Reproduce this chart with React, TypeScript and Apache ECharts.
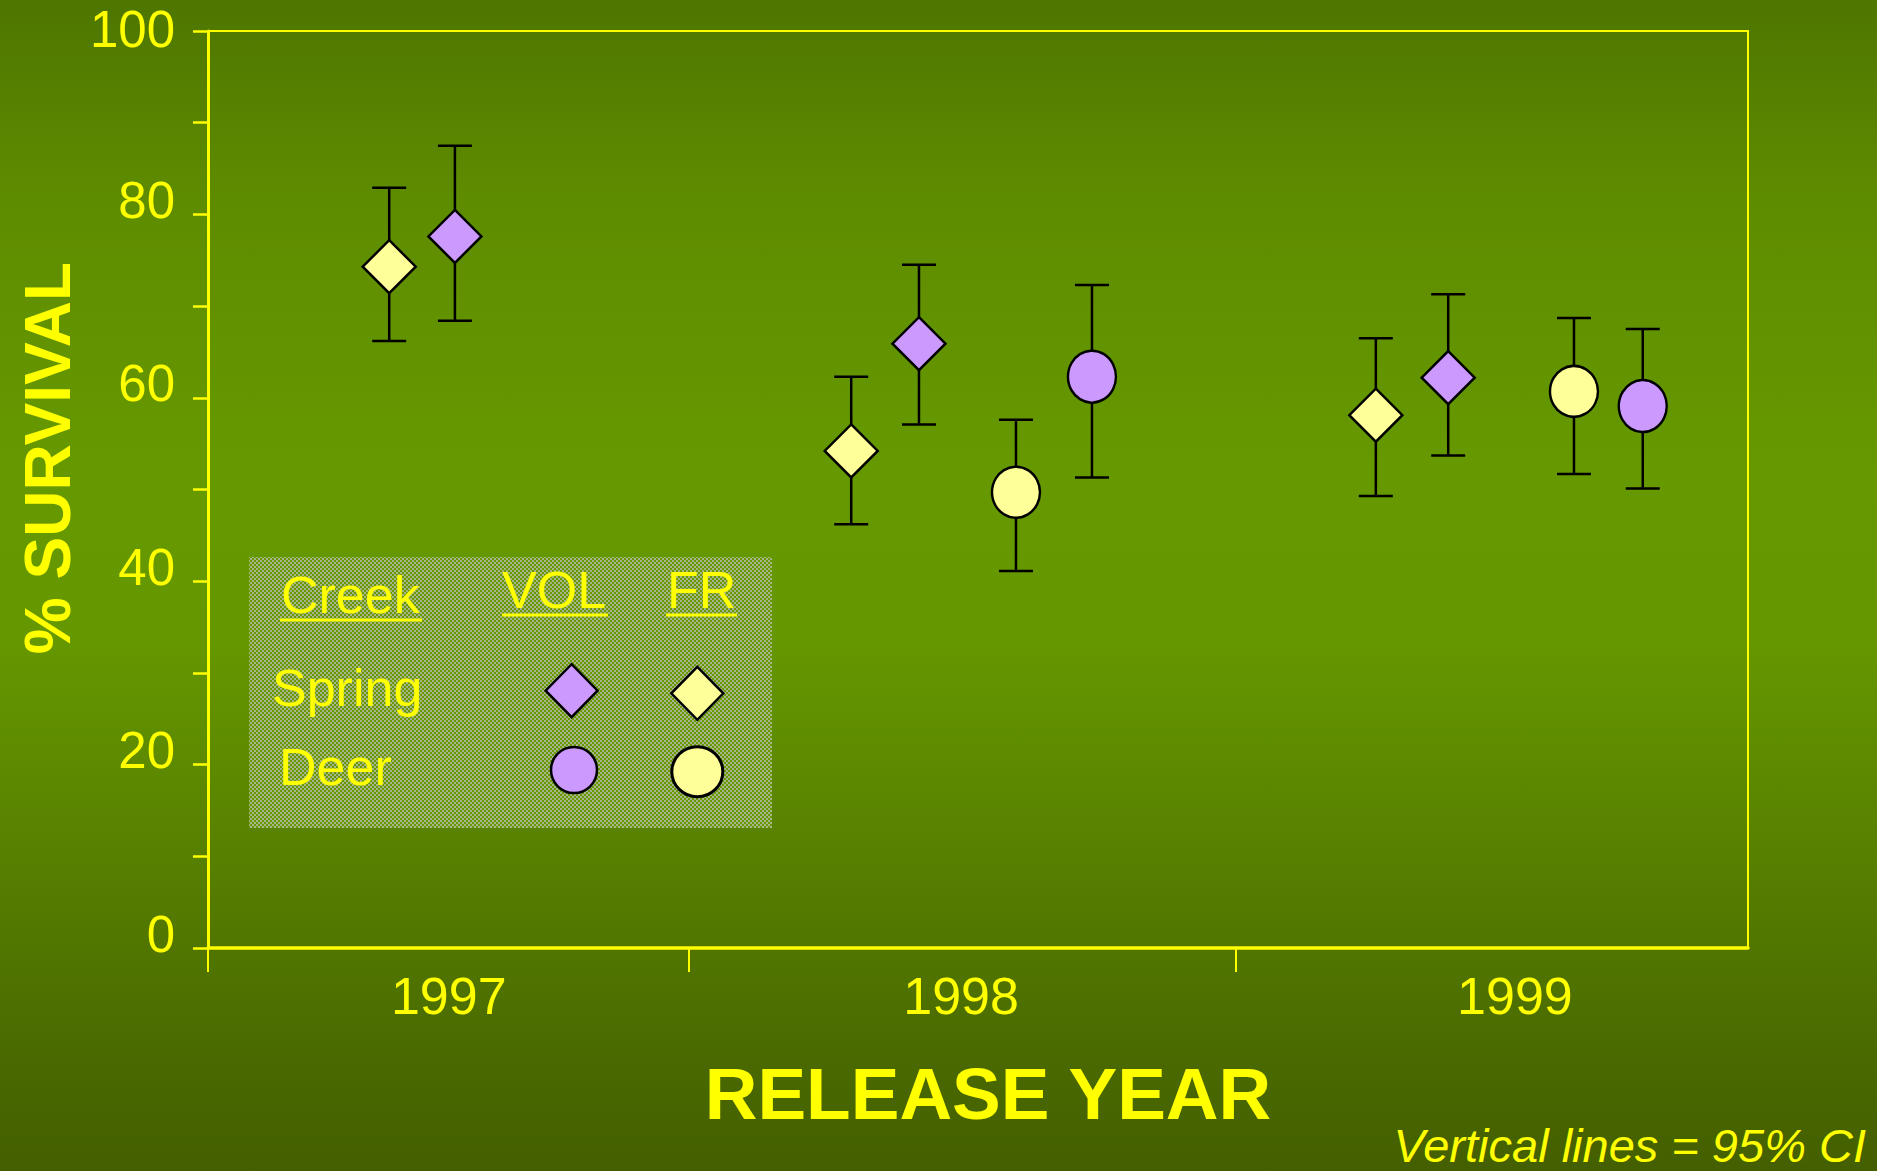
import React, { useEffect, useRef } from 'react';
import * as echarts from 'echarts';

// ---- data ----
const yearLabels = ['1997', '1998', '1999'];
const yearLabelPos = [0.469, 1.467, 2.546];
const yearBoundaries = [0, 0.937, 2.003];

const volSpringX = [0.481, 1.385, 2.416];
const volSpringY = [77.6, 65.9, 62.2];
const volSpringLo = [68.4, 57.1, 53.7];
const volSpringHi = [87.5, 74.5, 71.3];

const frSpringX = [0.353, 1.253, 2.275];
const frSpringY = [74.3, 54.2, 58.1];
const frSpringLo = [66.2, 46.2, 49.3];
const frSpringHi = [82.9, 62.3, 66.5];

const volDeerX = [1.722, 2.795];
const volDeerY = [62.3, 59.1];
const volDeerLo = [51.3, 50.1];
const volDeerHi = [72.3, 67.5];

const frDeerX = [1.574, 2.661];
const frDeerY = [49.7, 60.7];
const frDeerLo = [41.1, 51.7];
const frDeerHi = [57.6, 68.7];

const FONT = '"Liberation Sans", Arial, Helvetica, sans-serif';
const YELLOW = '#ffff00';
const PURPLE = '#cc99ff';
const CREAM = '#ffff99';

function zip(xs: number[], ys: number[]) {
  return xs.map((x, i) => [x, ys[i]]);
}
function bars(xs: number[], lo: number[], hi: number[]) {
  return xs.map((x, i) => [x, lo[i], hi[i]]);
}

export default function App() {
  const ref = useRef<HTMLDivElement>(null);
  useEffect(() => {
    if (!ref.current) return;
    const chart = echarts.init(ref.current, undefined, { renderer: 'svg' });

    const c = document.createElement('canvas');
    c.width = 4;
    c.height = 4;
    const g = c.getContext('2d')!;
    g.fillStyle = '#669900';
    g.fillRect(0, 0, 4, 4);
    g.fillStyle = '#a9b488';
    g.fillRect(0, 0, 2, 2);
    g.fillRect(2, 2, 2, 2);
    const patternUrl = c.toDataURL();

    const errData = [
      ...bars(volSpringX, volSpringLo, volSpringHi),
      ...bars(frSpringX, frSpringLo, frSpringHi),
      ...bars(volDeerX, volDeerLo, volDeerHi),
      ...bars(frDeerX, frDeerLo, frDeerHi),
    ];

    const markerBorder = { borderColor: '#000', borderWidth: 2.5 };

    const option: any = {
      animation: false,
      backgroundColor: new echarts.graphic.LinearGradient(0, 0, 0, 1, [
        { offset: 0, color: '#4e7600' },
        { offset: 0.17, color: '#5e8c00' },
        { offset: 0.4, color: '#669900' },
        { offset: 0.55, color: '#659700' },
        { offset: 0.9, color: '#4a6a00' },
        { offset: 1, color: '#445f00' },
      ]),
      grid: {
        left: 208,
        top: 31,
        width: 1540,
        height: 917,
        show: true,
        borderColor: YELLOW,
        borderWidth: 2,
        backgroundColor: 'transparent',
      },
      xAxis: {
        type: 'value',
        min: 0,
        max: 3,
        axisLine: { show: true, lineStyle: { color: YELLOW, width: 3.5 } },
        axisTick: {
          show: true,
          customValues: yearBoundaries,
          length: 24,
          lineStyle: { color: YELLOW, width: 2 },
        },
        axisLabel: {
          show: true,
          customValues: yearLabelPos,
          formatter: (v: number) => {
            const i = yearLabelPos.findIndex((p) => Math.abs(p - v) < 1e-6);
            return i >= 0 ? yearLabels[i] : '';
          },
          color: YELLOW,
          fontSize: 52,
          fontFamily: FONT,
          margin: 22,
        },
        splitLine: { show: false },
      },
      yAxis: {
        type: 'value',
        min: 0,
        max: 100,
        interval: 10,
        axisLine: { show: true, lineStyle: { color: YELLOW, width: 3 } },
        axisTick: { show: true, length: 15, lineStyle: { color: YELLOW, width: 2.5 } },
        axisLabel: {
          color: YELLOW,
          fontSize: 51,
          fontFamily: FONT,
          margin: 33,
          formatter: (v: number) => {
            if (v % 20 !== 0) return '';
            if (v === 100) return '{t|100}';
            return '{u|' + v + '}';
          },
          rich: {
            t: { fontSize: 51, fontFamily: FONT, color: YELLOW, padding: [0, 0, 4, 0] },
            u: { fontSize: 51, fontFamily: FONT, color: YELLOW, padding: [0, 0, 28, 0] },
          },
        },
        splitLine: { show: false },
      },
      series: [
        {
          type: 'custom',
          name: 'CI',
          z: 1,
          data: errData,
          encode: { x: 0, y: [1, 2] },
          renderItem: (params: any, api: any) => {
            const x = api.value(0);
            const lo = api.coord([x, api.value(1)]);
            const hi = api.coord([x, api.value(2)]);
            const w = 17;
            const st = { stroke: '#000', lineWidth: 2.5 };
            return {
              type: 'group',
              children: [
                { type: 'line', shape: { x1: lo[0], y1: lo[1], x2: hi[0], y2: hi[1] }, style: st },
                { type: 'line', shape: { x1: lo[0] - w, y1: lo[1], x2: lo[0] + w, y2: lo[1] }, style: st },
                { type: 'line', shape: { x1: hi[0] - w, y1: hi[1], x2: hi[0] + w, y2: hi[1] }, style: st },
              ],
            };
          },
        },
        {
          type: 'scatter',
          name: 'VOL Spring',
          z: 3,
          symbol: 'diamond',
          symbolSize: [53, 53],
          itemStyle: { color: PURPLE, opacity: 1, ...markerBorder },
          data: zip(volSpringX, volSpringY),
        },
        {
          type: 'scatter',
          name: 'FR Spring',
          z: 3,
          symbol: 'diamond',
          symbolSize: [53, 53],
          itemStyle: { color: CREAM, opacity: 1, ...markerBorder },
          data: zip(frSpringX, frSpringY),
        },
        {
          type: 'scatter',
          name: 'VOL Deer',
          z: 3,
          symbol: 'circle',
          symbolSize: [48, 52],
          itemStyle: { color: PURPLE, opacity: 1, ...markerBorder },
          data: zip(volDeerX, volDeerY),
        },
        {
          type: 'scatter',
          name: 'FR Deer',
          z: 3,
          symbol: 'circle',
          symbolSize: [48, 51],
          itemStyle: { color: CREAM, opacity: 1, ...markerBorder },
          data: zip(frDeerX, frDeerY),
        },
      ],
      graphic: [
        {
          type: 'rect',
          z: 0,
          shape: { x: 249, y: 557, width: 523, height: 271 },
          style: {
            fill: { image: patternUrl, repeat: 'repeat', imageWidth: 4, imageHeight: 4 },
          },
        },
        { type: 'text', z: 5, style: { text: 'Creek', x: 281, y: 595, fill: YELLOW, font: '52px ' + FONT, textAlign: 'left', textVerticalAlign: 'middle' } },
        { type: 'line', z: 5, shape: { x1: 280, y1: 620, x2: 422, y2: 620 }, style: { stroke: YELLOW, lineWidth: 3 } },
        { type: 'text', z: 5, style: { text: 'VOL', x: 502, y: 590, fill: YELLOW, font: '52px ' + FONT, textAlign: 'left', textVerticalAlign: 'middle' } },
        { type: 'line', z: 5, shape: { x1: 502, y1: 615, x2: 608, y2: 615 }, style: { stroke: YELLOW, lineWidth: 3 } },
        { type: 'text', z: 5, style: { text: 'FR', x: 667, y: 590, fill: YELLOW, font: '52px ' + FONT, textAlign: 'left', textVerticalAlign: 'middle' } },
        { type: 'line', z: 5, shape: { x1: 666, y1: 615, x2: 737, y2: 615 }, style: { stroke: YELLOW, lineWidth: 3 } },
        { type: 'text', z: 5, style: { text: 'Spring', x: 272, y: 688, fill: YELLOW, font: '52px ' + FONT, textAlign: 'left', textVerticalAlign: 'middle' } },
        { type: 'text', z: 5, style: { text: 'Deer', x: 279, y: 767, fill: YELLOW, font: '52px ' + FONT, textAlign: 'left', textVerticalAlign: 'middle' } },
        {
          type: 'polygon',
          z: 5,
          shape: { points: [[571.6, 664.2], [597.6, 690.7], [571.6, 717.2], [545.6, 690.7]] },
          style: { fill: PURPLE, stroke: '#000', lineWidth: 2.5 },
        },
        {
          type: 'polygon',
          z: 5,
          shape: { points: [[697.3, 666.8], [723.3, 693.3], [697.3, 719.8], [671.3, 693.3]] },
          style: { fill: CREAM, stroke: '#000', lineWidth: 2.5 },
        },
        { type: 'ellipse', z: 5, shape: { cx: 574, cy: 770, rx: 23, ry: 23 }, style: { fill: PURPLE, stroke: '#000', lineWidth: 2.5 } },
        { type: 'ellipse', z: 5, shape: { cx: 697.3, cy: 771.7, rx: 25.5, ry: 25 }, style: { fill: CREAM, stroke: '#000', lineWidth: 3 } },
        {
          type: 'text',
          z: 5,
          rotation: Math.PI / 2,
          x: 48,
          y: 458,
          style: { text: '% SURVIVAL', x: 0, y: 0, fill: YELLOW, font: 'bold 64px ' + FONT, textAlign: 'center', textVerticalAlign: 'middle' },
        },
        {
          type: 'text',
          z: 5,
          style: { text: 'RELEASE YEAR', x: 988, y: 1093, fill: YELLOW, font: 'bold 73px ' + FONT, textAlign: 'center', textVerticalAlign: 'middle' },
        },
        {
          type: 'text',
          z: 5,
          style: { text: 'Vertical lines = 95% CI', x: 1866, y: 1145, fill: YELLOW, font: 'italic 47px ' + FONT, textAlign: 'right', textVerticalAlign: 'middle' },
        },
      ],
    };
    chart.setOption(option);
    return () => chart.dispose();
  }, []);
  return (
    <div
      ref={ref}
      style={{ position: 'absolute', left: 0, top: 0, width: 1877, height: 1171 }}
    />
  );
}
